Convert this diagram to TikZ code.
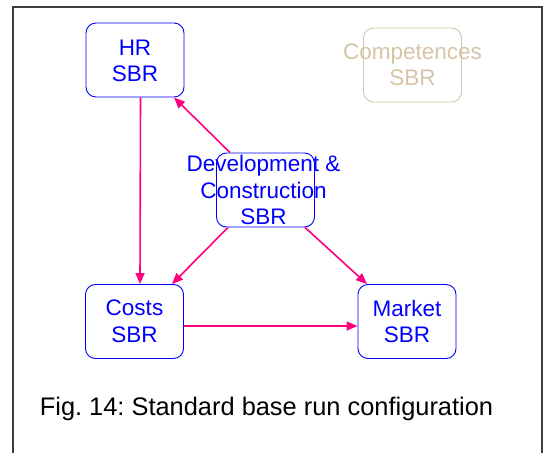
\documentclass[tikz,border=0pt]{standalone}
\usepackage{fontspec}
\setmainfont{Liberation Sans}
\usetikzlibrary{arrows.meta}
\frenchspacing
\definecolor{sbrblue}{RGB}{0,0,255}
\definecolor{linkpink}{RGB}{255,0,128}
\definecolor{faded}{RGB}{214,196,166}
\definecolor{framegray}{RGB}{60,60,60}
\tikzset{
  sbrbox/.style={draw=sbrblue, line width=0.9pt, rounded corners=10pt,
    minimum width=98pt, minimum height=74pt, inner sep=0pt},
  sbrtext/.style={text=sbrblue, align=center, inner sep=0pt,
    font=\fontsize{22.5}{26.5}\selectfont},
  fadedbox/.style={sbrbox, draw=faded},
  fadedtext/.style={sbrtext, text=faded},
  link/.style={draw=linkpink, line width=1.6pt,
    -{Triangle[length=11pt,width=9pt]}},
}
\begin{document}
\begin{tikzpicture}[x=1pt,y=-1pt]
  \useasboundingbox (0,0) rectangle (547,453);
  % open frame round the figure
  \draw[framegray, line width=1.5pt] (13,453) -- (13,7) -- (542,7) -- (542,453);

  % boxes
  \node[sbrbox] (hr) at (135,60) {};
  \node[sbrtext] at ([yshift=-1pt]hr.center) {HR\\SBR};
  \node[fadedbox] (comp) at (412.5,65) {};
  \node[fadedtext] at (comp.center) {Competences\\SBR};
  \node[sbrbox] (dev) at (265.5,190) {};
  \node[sbrtext] at ([xshift=-2pt]dev.center) {Development \&\\Construction\\SBR};
  \node[sbrbox] (costs) at (134.5,321.5) {};
  \node[sbrtext] at (costs.center) {Costs\\SBR};
  \node[sbrbox] (market) at (407,321.5) {};
  \node[sbrtext] at (market.center) {Market\\SBR};

  % connectors
  \draw[link] ([xshift=5.5pt]hr.south) -- ([xshift=5.5pt]costs.north);
  \draw[link] ([xshift=-35.5pt]dev.north) -- ([xshift=39pt]hr.south);
  \draw[link] ([xshift=-37.5pt]dev.south) -- ([xshift=37.5pt]costs.north);
  \draw[link] ([xshift=39.5pt]dev.south) -- ([xshift=-40pt]market.north);
  \draw[link] ([yshift=-4.5pt]costs.east) -- ([yshift=-4.5pt]market.west);

  % caption
  \node[inner sep=0pt, font=\fontsize{25.4}{30}\selectfont] (cap) at (266.5,409)
    {Fig. 14: Standard base run configuration};
\end{tikzpicture}
\end{document}
